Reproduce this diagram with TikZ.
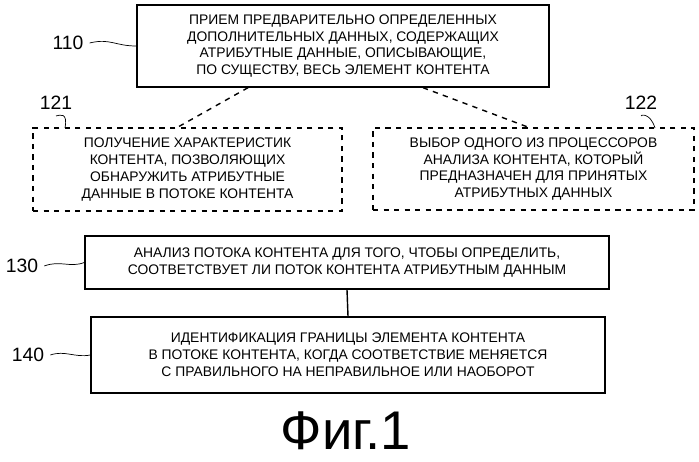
\documentclass[tikz,border=0pt]{standalone}
\usepackage{fontspec}
\setmainfont{Liberation Sans}
\usetikzlibrary{positioning}
\begin{document}
\begin{tikzpicture}[x=0.02cm,y=-0.02cm,
  box/.style={draw,thick,align=center,inner sep=2pt,font=\fontsize{7.9}{9.6}\selectfont},
  dbox/.style={box,dashed},
  num/.style={font=\fontsize{11}{12}\selectfont}]
\useasboundingbox (0,0) rectangle (699,462);
% boxes
\node[box,minimum width=412*0.02cm,minimum height=82*0.02cm] (b110) at (343,46)
  {ПРИЕМ ПРЕДВАРИТЕЛЬНО ОПРЕДЕЛЕННЫХ\\ДОПОЛНИТЕЛЬНЫХ ДАННЫХ, СОДЕРЖАЩИХ\\АТРИБУТНЫЕ ДАННЫЕ, ОПИСЫВАЮЩИЕ,\\ПО СУЩЕСТВУ, ВЕСЬ ЭЛЕМЕНТ КОНТЕНТА};
\node[dbox,minimum width=309*0.02cm,minimum height=83*0.02cm] (b121) at (187.5,169.5)
  {ПОЛУЧЕНИЕ ХАРАКТЕРИСТИК\\КОНТЕНТА, ПОЗВОЛЯЮЩИХ\\ОБНАРУЖИТЬ АТРИБУТНЫЕ\\ДАННЫЕ В ПОТОКЕ КОНТЕНТА};
\node[dbox,minimum width=321*0.02cm,minimum height=82*0.02cm] (b122) at (533.5,169)
  {ВЫБОР ОДНОГО ИЗ ПРОЦЕССОРОВ\\АНАЛИЗА КОНТЕНТА, КОТОРЫЙ\\ПРЕДНАЗНАЧЕН ДЛЯ ПРИНЯТЫХ\\АТРИБУТНЫХ ДАННЫХ};
\node[box,minimum width=524*0.02cm,minimum height=53*0.02cm] (b130) at (347,262.5)
  {АНАЛИЗ ПОТОКА КОНТЕНТА ДЛЯ ТОГО, ЧТОБЫ ОПРЕДЕЛИТЬ,\\СООТВЕТСТВУЕТ ЛИ ПОТОК КОНТЕНТА АТРИБУТНЫМ ДАННЫМ};
\node[box,minimum width=514*0.02cm,minimum height=76*0.02cm] (b140) at (348,355)
  {ИДЕНТИФИКАЦИЯ ГРАНИЦЫ ЭЛЕМЕНТА КОНТЕНТА\\В ПОТОКЕ КОНТЕНТА, КОГДА СООТВЕТСТВИЕ МЕНЯЕТСЯ\\С ПРАВИЛЬНОГО НА НЕПРАВИЛЬНОЕ ИЛИ НАОБОРОТ};
% links
\draw[thick,dashed] (b110.south) ++(-95,0) -- ([xshift=-10*0.02cm]b121.north);
\draw[thick,dashed] (b110.south) ++(80,0) -- ([xshift=-5*0.02cm]b122.north);
\draw[thick] (b130.south) -- (b140.north);
% reference numbers
\node[num] (n110) at (68,43) {110};
\node[num] (n121) at (56,103) {121};
\node[num] (n122) at (641,103) {122};
\node[num] (n130) at (22,266) {130};
\node[num] (n140) at (28,355) {140};
\draw (n110.east) .. controls (110,38) and (115,46) .. (b110.west);
\draw (n121.south) .. controls (60,115) and (68,112) .. (65,128);
\draw (n122.south) .. controls (640,115) and (650,112) .. (655,128);
\draw (n130.east) .. controls (60,260) and (70,268) .. (b130.west);
\draw (n140.east) .. controls (65,350) and (75,358) .. (b140.west);
\node[font=\fontsize{31}{36}\selectfont] (fig) at (346,431) {Фиг.1};
\end{tikzpicture}
\end{document}
